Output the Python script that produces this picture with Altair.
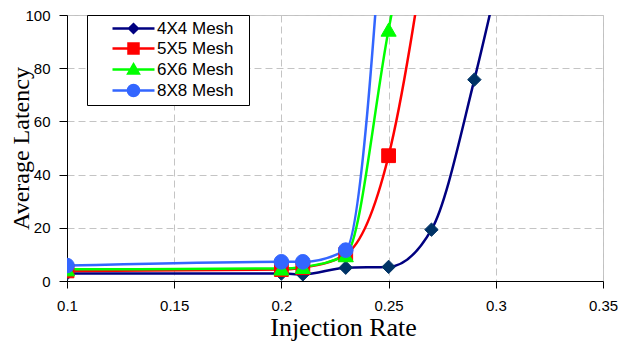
import altair as alt
import pandas as pd

# ---------------- data ----------------
series_names = ["4X4 Mesh", "5X5 Mesh", "6X6 Mesh", "8X8 Mesh"]

rate_4x4 = [0.10, 0.20, 0.21, 0.23, 0.25, 0.27, 0.29, 0.30]
lat_4x4 = [2.8, 2.8, 2.5, 5.0, 5.3, 19.3, 75.7, 110.0]

rate_5x5 = [0.10, 0.20, 0.21, 0.23, 0.25, 0.27]
lat_5x5 = [3.8, 4.3, 5.0, 10.0, 47.1, 140.0]

rate_6x6 = [0.10, 0.20, 0.21, 0.23, 0.25, 0.27]
lat_6x6 = [4.4, 4.7, 5.3, 9.7, 94.5, 179.0]

rate_8x8 = [0.10, 0.20, 0.21, 0.23, 0.25]
lat_8x8 = [5.8, 7.2, 7.2, 11.6, 170.0]

x_ticks = [0.1, 0.15, 0.2, 0.25, 0.3, 0.35]
y_ticks = [0, 20, 40, 60, 80, 100]

# ---------------- styles ----------------
line_colors = ["#000080", "#FF0000", "#00FF00", "#3366FF"]
marker_colors = ["#003366", "#FF0000", "#00FF00", "#3366FF"]
marker_shapes = ["diamond", "square", "triangle-up", "circle"]
marker_sizes = [180, 190, 230, 215]

SANS = "Liberation Sans"
SERIF = "Liberation Serif"

rows = []
for name, xs, ys in zip(series_names,
                        [rate_4x4, rate_5x5, rate_6x6, rate_8x8],
                        [lat_4x4, lat_5x5, lat_6x6, lat_8x8]):
    for i, (xv, yv) in enumerate(zip(xs, ys)):
        rows.append({"series": name, "rate": xv, "latency": yv, "idx": i})
df = pd.DataFrame(rows)

# legend symbols: a line with the marker on it (custom SVG paths)
LEG_SIZE = 18 * 18
UNIT = 9.0  # sqrt(size)/2 pixels per path unit
HALF_LINE = 21.0


def u(v):
    return f"{v / UNIT:.3f}"


line_part = f"M{u(-HALF_LINE)},0L{u(HALF_LINE)},0"
d = 4.3
s = 5.0
r = 5.6
legend_paths = [
    line_part + f"M{u(-d)},0L0,{u(-d)}L{u(d)},0L0,{u(d)}Z",
    line_part + f"M{u(-s)},{u(-s)}L{u(s)},{u(-s)}L{u(s)},{u(s)}L{u(-s)},{u(s)}Z",
    line_part + f"M0,{u(-5.0)}L{u(5.2)},{u(4.0)}L{u(-5.2)},{u(4.0)}Z",
    line_part + f"M{u(r)},0A{u(r)},{u(r)},0,1,1,{u(-r)},0A{u(r)},{u(r)},0,1,1,{u(r)},0Z",
]

x_enc = alt.X(
    "rate:Q",
    scale=alt.Scale(domain=[0.1, 0.35], nice=False, zero=False),
    axis=alt.Axis(
        values=x_ticks, format=".2~f", title="Injection Rate",
        titleFont=SERIF, titleFontSize=26, titleFontWeight="normal", titleColor="black",
        titleX=276, titleY=54, titleAlign="center", titleBaseline="alphabetic",
        labelFont=SANS, labelFontSize=15, labelColor="black", labelPadding=10,
        labelFlush=False, labelOverlap=False,
        tickSize=7, tickColor="black", tickWidth=1,
        domainColor="black", domainWidth=1,
        grid=True, gridColor="#c4c4c4", gridDash=[7, 4], gridWidth=1,
    ),
)
y_enc = alt.Y(
    "latency:Q",
    scale=alt.Scale(domain=[0, 100], nice=False, zero=True),
    axis=alt.Axis(
        values=y_ticks, title="Average Latency",
        titleFont=SERIF, titleFontSize=24, titleFontWeight="normal", titleColor="black",
        titleX=-39, titleY=133, titleAlign="center", titleBaseline="alphabetic",
        labelFont=SANS, labelFontSize=15, labelColor="black", labelPadding=9,
        labelFlush=False, labelOverlap=False,
        tickSize=8, tickColor="black", tickWidth=1,
        domainColor="black", domainWidth=1,
        grid=True, gridColor="#c4c4c4", gridDash=[7, 4], gridWidth=1,
    ),
)

color_scale = alt.Scale(domain=series_names, range=line_colors)

base = alt.Chart(df)

legend_obj = alt.Legend(
    orient="none", legendX=20, legendY=0, direction="vertical",
    symbolSize=LEG_SIZE, symbolStrokeWidth=2.5, symbolOffset=33, labelOffset=13,
    rowPadding=0, padding=3, strokeColor="black", fillColor="white",
    labelFont=SANS, labelFontSize=17, labelColor="black",
    labelExpr="datum.label + '\u2800'", symbolOpacity=1,
)

# legend-only layer (no marks drawn); it must come first so its legend wins
legend_layer = base.transform_filter("false").mark_point(filled=True, opacity=1).encode(
    x=x_enc, y=y_enc,
    color=alt.Color("series:N", scale=color_scale, legend=legend_obj, title=None),
    stroke=alt.Stroke("series:N", scale=color_scale, legend=legend_obj, title=None),
    shape=alt.Shape("series:N", scale=alt.Scale(domain=series_names, range=legend_paths),
                    legend=legend_obj, title=None),
)

lines = base.mark_line(interpolate="monotone", clip=True, strokeWidth=2.5).encode(
    x=x_enc, y=y_enc,
    color=alt.Color("series:N", scale=color_scale, legend=None),
    order="idx:Q",
)

marker_layers = []
for name, shp, sz, col in zip(series_names, marker_shapes, marker_sizes, marker_colors):
    marker_layers.append(
        base.transform_filter(alt.datum.series == name)
        .mark_point(shape=shp, size=sz, filled=True, clip=True, opacity=1,
                    fill=col, stroke=col, strokeWidth=1)
        .encode(x=x_enc, y=y_enc)
    )

chart = (
    alt.layer(legend_layer, lines, *marker_layers)
    .properties(
        width=536, height=266,
        autosize=alt.AutoSizeParams(type="none"),
        padding={"left": 59, "top": 7, "right": 16, "bottom": 60},
        background="white",
    )
    .configure_view(stroke="#c0c0c0", strokeWidth=1)
)

chart.save("out.html", embed_options={"renderer": "svg", "actions": False})
